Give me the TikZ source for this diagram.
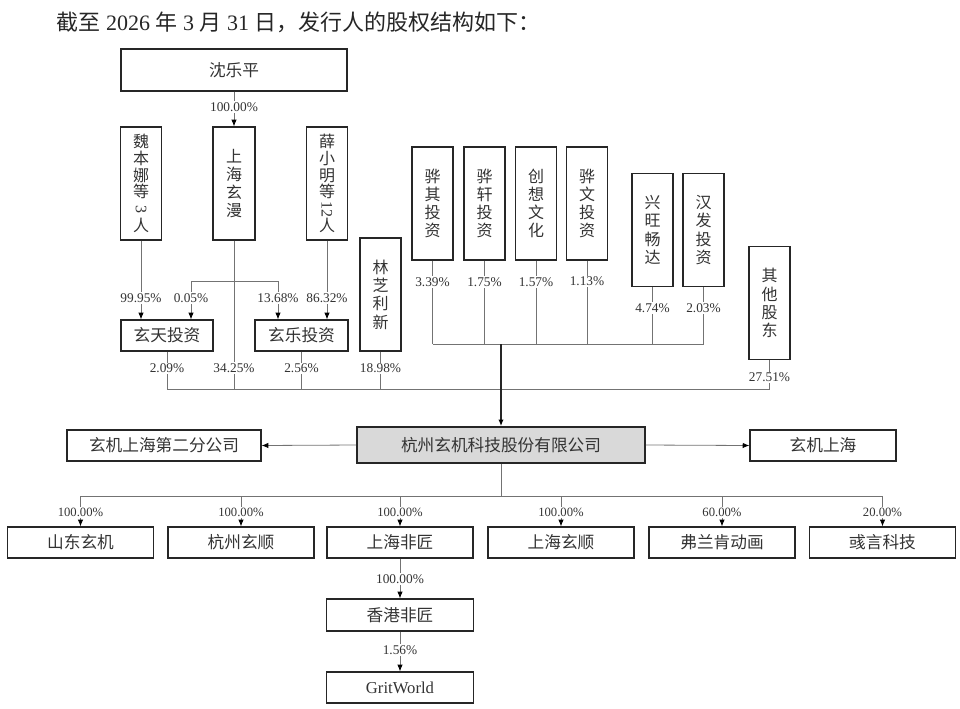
\documentclass[tikz,border=0pt]{standalone}
\usepackage{fontspec}
\setmainfont{Liberation Serif}
\newfontfamily\cjk{Noto Sans CJK SC}
\usetikzlibrary{arrows.meta}
\definecolor{linegray}{gray}{0.45}
\definecolor{boxfill}{gray}{0.85}
\definecolor{txtgray}{gray}{0.2}
\begin{document}
\begin{tikzpicture}[
x=0.75pt,y=-0.75pt,
>={Latex[length=5pt,width=4pt,color=black]},
box/.style={
draw=black!85,
line width=0.9pt,
inner sep=0pt,
minimum width=109.5pt,
minimum height=23.25pt,
text=txtgray,
font=\cjk\fontsize{12.5}{14}\selectfont},
vbox/.style={
box,
minimum width=30.75pt,
minimum height=84.75pt,
align=center,
font=\cjk\fontsize{12}{13.7}\selectfont},
vlong/.style={
vbox,
font=\cjk\fontsize{12}{12.5}\selectfont},
pct/.style={
fill=white,
inner sep=1pt,
text=txtgray,
font=\fontsize{10}{10}\selectfont},
pctsub/.style={
pct,
font=\fontsize{9.5}{9.5}\selectfont},
link/.style={draw=linegray,line width=0.6pt}
]
\useasboundingbox (0,0) rectangle (960,708);

\node[anchor=west,text=black!85,font=\fontsize{16.5}{18}\selectfont] (title) at (52,22)
{{\cjk 截至} 2026 {\cjk 年} 3 {\cjk 月} 31 {\cjk 日，发行人的股权结构如下：}};

\node[box,minimum width=169.5pt,minimum height=31.5pt] (shen) at (234,70) {沈乐平};

\node[vlong] (weibn) at (141,183.5) {魏\\本\\娜\\等\\{\fontspec{Liberation Serif}\rotatebox[origin=c]{-90}{3}}\\人};
\node[vbox,minimum width=31.5pt] (xuanman) at (234,183.5) {上\\海\\玄\\漫};
\node[vlong] (xuexm) at (327,183.5) {薛\\小\\明\\等\\{\fontspec{Liberation Serif}\rotatebox[origin=c]{-90}{12}}\\人};
\node[vbox] (lzlx) at (380.5,294.5) {林\\芝\\利\\新};

\node[vbox] (huaqi) at (432.5,203.5) {骅\\其\\投\\资};
\node[vbox] (huaxuan) at (484.5,203.5) {骅\\轩\\投\\资};
\node[vbox] (chuangxiang) at (536,203.5) {创\\想\\文\\化};
\node[vbox] (huawen) at (587,203.5) {骅\\文\\投\\资};
\node[vbox] (xingwang) at (652.5,230) {兴\\旺\\畅\\达};
\node[vbox] (hanfa) at (703.5,230) {汉\\发\\投\\资};
\node[vbox] (qita) at (769.5,303) {其\\他\\股\\东};

\node[box,minimum width=69pt] (xuantian) at (167,335.5) {玄天投资};
\node[box,minimum width=69.75pt] (xuanle) at (301.5,335.5) {玄乐投资};

\node[box,fill=boxfill,line width=1.2pt,minimum width=216pt,minimum height=27pt] (company) at (501,445) {杭州玄机科技股份有限公司};
\node[box,minimum width=145.5pt] (branch) at (164,445.5) {玄机上海第二分公司};
\node[box] (xjsh) at (823,445.5) {玄机上海};

\node[box] (sdxj) at (80.5,542.5) {山东玄机};
\node[box] (hzxs) at (241,542.5) {杭州玄顺};
\node[box] (shfj) at (400,542.5) {上海非匠};
\node[box] (shxs) at (561,542.5) {上海玄顺};
\node[box] (flk) at (722,542.5) {弗兰肯动画};
\node[box] (yykj) at (882.5,542.5) {彧言科技};

\node[box,minimum width=110.25pt,minimum height=24pt] (hkfj) at (400,615) {香港非匠};
\node[box,minimum width=110.25pt] (grit) at (400,687.5) {\fontspec{Liberation Serif}GritWorld};

\coordinate (brL) at (191,281);
\coordinate (brR) at (278,281);
\coordinate (busI) at (501,344);
\coordinate (busM) at (501,389);
\coordinate (busS) at (501,496);

\draw[link,->] (shen.south) -- (xuanman.north) node[pct,pos=.44] {100.00\%};
\draw[link,->] (weibn.south) -- (weibn.south |- xuantian.north) node[pct,pos=.725] {99.95\%};
\draw[link,->] (xuexm.south) -- (xuexm.south |- xuanle.north) node[pct,pos=.725] {86.32\%};
\draw[link] (brL) -- (brR);
\draw[link,->] (brL) -- (brL |- xuantian.north) node[pct,pos=.44] {0.05\%};
\draw[link,->] (brR) -- (brR |- xuanle.north) node[pct,pos=.44] {13.68\%};

\draw[link] (xuantian.south) -- (xuantian.south |- busM) node[pct,pos=.45] {2.09\%};
\draw[link] (xuanman.south) -- (xuanman.south |- busM) node[pct,pos=.86] {34.25\%};
\draw[link] (xuanle.south) -- (xuanle.south |- busM) node[pct,pos=.45] {2.56\%};
\draw[link] (lzlx.south) -- (lzlx.south |- busM) node[pct,pos=.45] {18.98\%};
\draw[link] (qita.south) -- (qita.south |- busM) node[pct,pos=.6] {27.51\%};
\draw[link] (xuantian.south |- busM) -- (qita.south |- busM);

\foreach \n/\p/\q in {huaqi/3.39/.26,huaxuan/1.75/.26,chuangxiang/1.57/.26,huawen/1.13/.25,xingwang/4.74/.37,hanfa/2.03/.37}
  \draw[link] (\n.south) -- (\n.south |- busI) node[pct,pos=\q] {\p\%};
\draw[link] (huaqi.south |- busI) -- (hanfa.south |- busI);
\draw[line width=1.5pt,black!85,->] (busI) -- (company.north);

\draw[link,->] (company.west) -- (branch.east);
\draw[link,->] (company.east) -- (xjsh.west);

\draw[link] (company.south) -- (busS);
\draw[link] (sdxj.north |- busS) -- (yykj.north |- busS);
\foreach \n/\p in {sdxj/100.00,hzxs/100.00,shfj/100.00,shxs/100.00,flk/60.00,yykj/20.00}
  \draw[link,->] (\n.north |- busS) -- (\n.north) node[pctsub,pos=.55] {\p\%};

\draw[link,->] (shfj.south) -- (hkfj.north) node[pct,pos=.51] {100.00\%};
\draw[link,->] (hkfj.south) -- (grit.north) node[pct,pos=.46] {1.56\%};

\end{tikzpicture}
\end{document}
